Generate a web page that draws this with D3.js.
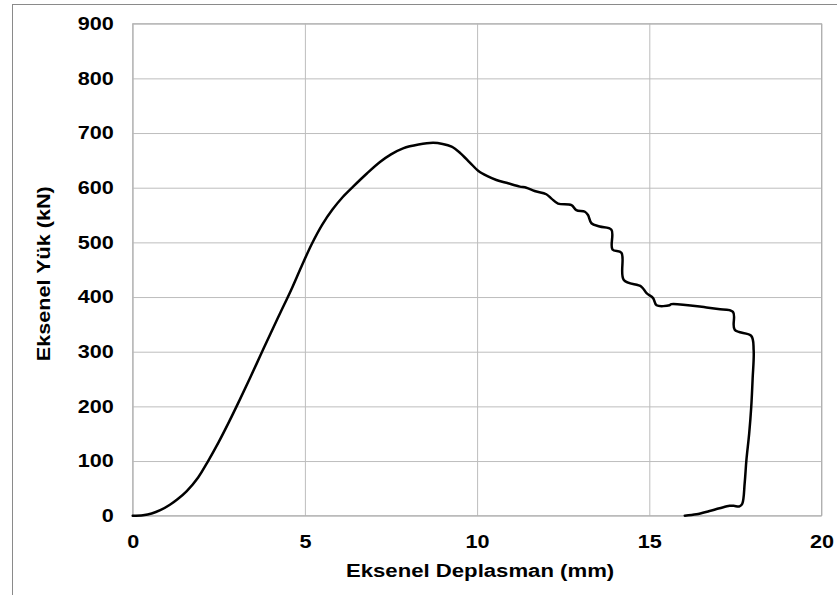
<!DOCTYPE html>
<html>
<head>
<meta charset="utf-8">
<script src="https://cdn.jsdelivr.net/npm/d3@7"></script>
<style>
  body { margin: 0; background: #fff; }
  svg { display: block; font-family: "Liberation Sans", Arial, sans-serif; }
</style>
</head>
<body>
<div id="chart"></div>
<script>
// axis ticks
const x_ticks = [0, 5, 10, 15, 20];
const y_ticks = [0, 100, 200, 300, 400, 500, 600, 700, 800, 900];

// load-displacement curve
const displacement = [0, 0.3, 0.55, 0.8, 1.08, 1.3, 1.57, 1.9, 2.19, 2.5, 2.8, 3.1, 3.4, 3.7, 4.0, 4.3,
    4.6, 4.9, 5.2, 5.5, 5.8, 6.1, 6.4, 6.8, 7.18, 7.5, 7.85, 8.3, 8.72, 9.0, 9.26, 9.5, 9.79, 10.03, 10.3, 10.56,
    10.9, 11.24, 11.43, 11.67, 12.01, 12.16, 12.35, 12.74, 12.88, 13.13, 13.22, 13.32, 13.56, 13.9, 13.93,
    14.19, 14.26, 14.77, 14.92, 15.11, 15.21, 15.59, 15.64, 16.66, 17.0, 17.43, 17.48, 17.96, 18.03, 18.0,
    17.96, 17.9, 17.82, 17.77, 17.7, 17.62, 17.45, 17.33, 17.04, 16.75, 16.37, 16.03];
const load = [0, 1, 4, 10, 20, 30, 45, 70, 100, 135, 172, 211, 251, 292, 333, 373,
    413, 456, 497, 532, 560, 583, 602, 626, 647, 661, 672, 679, 682, 680, 675, 664, 646, 631, 621, 614,
    608, 602, 600, 594, 588, 580, 571, 568, 559, 556, 550, 535, 529, 523, 487,
    481, 431, 419, 407, 398, 385, 385, 387, 381, 378, 373, 340, 329, 303, 250,
    199, 150, 102, 60, 22, 17, 18, 18, 13.5, 8.6, 2.5, 0];

const width = 837;
const height = 595;
const margin = { top: 23.7, left: 132.7, right: 837 - 821.5, bottom: 595 - 515.7 };
const stretch = 1.2; // labels in the picture are drawn wider than normal

const curve = displacement.map((d, i) => ({ d: d, load: load[i] }));

const svg = d3.select("#chart")
    .append("svg")
    .attr("width", width)
    .attr("height", height);

// outer frame (runs off the page on right and bottom)
svg.append("rect")
    .attr("x", 12.5)
    .attr("y", 4.5)
    .attr("width", 900)
    .attr("height", 700)
    .attr("fill", "none")
    .attr("stroke", "#8a8a8a")
    .attr("stroke-width", 1);

const x = d3.scaleLinear()
    .domain([0, 20])
    .range([margin.left, width - margin.right]);

const y = d3.scaleLinear()
    .domain([0, 900])
    .range([height - margin.bottom, margin.top]);

// grid
svg.append("g")
    .attr("transform", `translate(${margin.left},0)`)
    .call(d3.axisLeft(y).tickValues(y_ticks).tickSize(-(width - margin.left - margin.right)).tickFormat(""))
    .call(g => g.select(".domain").remove())
    .call(g => g.selectAll(".tick line").attr("stroke", "#bdbdbd").attr("stroke-width", 1));

svg.append("g")
    .attr("transform", `translate(0,${height - margin.bottom})`)
    .call(d3.axisBottom(x).tickValues(x_ticks).tickSize(-(height - margin.top - margin.bottom)).tickFormat(""))
    .call(g => g.select(".domain").remove())
    .call(g => g.selectAll(".tick line").attr("stroke", "#bdbdbd").attr("stroke-width", 1));

// plot border
svg.append("rect")
    .attr("x", x(0))
    .attr("y", y(900))
    .attr("width", x(20) - x(0))
    .attr("height", y(0) - y(900))
    .attr("fill", "none")
    .attr("stroke", "#b0b0b0");

function widen(sel, k) {
    sel.each(function() {
        const w = this.getComputedTextLength();
        d3.select(this)
            .attr("textLength", w * (k || stretch))
            .attr("lengthAdjust", "spacingAndGlyphs");
    });
}

// tick labels
svg.append("g")
    .attr("transform", `translate(0,${height - margin.bottom})`)
    .call(d3.axisBottom(x).tickValues(x_ticks).tickSize(0).tickPadding(20))
    .call(g => g.select(".domain").remove())
    .call(g => g.selectAll(".tick text")
        .attr("font-family", "Liberation Sans, Arial, sans-serif")
        .attr("font-size", 18).attr("font-weight", "bold").attr("fill", "#000")
        .call(widen));

svg.append("g")
    .attr("transform", `translate(${margin.left},0)`)
    .call(d3.axisLeft(y).tickValues(y_ticks).tickSize(0).tickPadding(19))
    .call(g => g.select(".domain").remove())
    .call(g => g.selectAll(".tick text")
        .attr("font-family", "Liberation Sans, Arial, sans-serif")
        .attr("font-size", 18).attr("font-weight", "bold").attr("fill", "#000")
        .call(widen));

// curve
const line = d3.line()
    .curve(d3.curveCatmullRom.alpha(0.5))
    .x(d => x(d.d))
    .y(d => y(d.load));

svg.append("path")
    .datum(curve)
    .attr("fill", "none")
    .attr("stroke", "#000")
    .attr("stroke-width", 2.5)
    .attr("stroke-linejoin", "round")
    .attr("stroke-linecap", "round")
    .attr("d", line);

// axis titles
svg.append("text")
    .attr("x", (x(0) + x(20)) / 2 + 3)
    .attr("y", 577)
    .attr("text-anchor", "middle")
    .attr("font-size", 18)
    .attr("font-weight", "bold")
    .text("Eksenel Deplasman (mm)")
    .call(widen, 1.23);

svg.append("text")
    .attr("transform", `translate(50,${(y(0) + y(900)) / 2 + 4}) rotate(-90)`)
    .attr("text-anchor", "middle")
    .attr("font-size", 18)
    .attr("font-weight", "bold")
    .text("Eksenel Yük (kN)")
    .call(widen);
</script>
</body>
</html>
